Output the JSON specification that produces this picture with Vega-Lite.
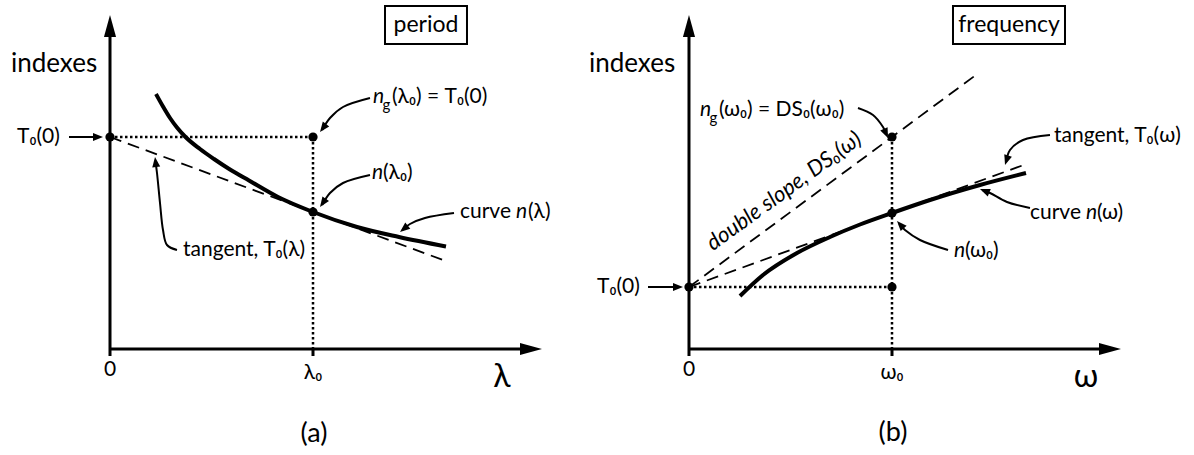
{
  "$schema": "https://vega.github.io/schema/vega-lite/v6.json",
  "padding": 0,
  "spacing": 0,
  "background": "white",
  "config": {
    "view": {"stroke": null},
    "text": {"font": "Lato, 'Noto Sans', sans-serif", "color": "black"},
    "line": {"color": "black"},
    "point": {"color": "black"}
  },
  "datasets": {
    "a_lines": [
      {"kind": "axis", "id": "yaxis", "i": 0, "x": 0, "y": -0.07},
      {"kind": "axis", "id": "yaxis", "i": 1, "x": 0, "y": 3.2},
      {"kind": "axis", "id": "xaxis", "i": 0, "x": 0, "y": 0},
      {"kind": "axis", "id": "xaxis", "i": 1, "x": 2.06, "y": 0},
      {"kind": "axis", "id": "tick", "i": 0, "x": 1, "y": 0},
      {"kind": "axis", "id": "tick", "i": 1, "x": 1, "y": -0.07},
      {"kind": "curve", "id": "n", "i": 0, "x": 0.2266, "y": 2.55},
      {"kind": "curve", "id": "n", "i": 1, "x": 0.2611, "y": 2.425},
      {"kind": "curve", "id": "n", "i": 2, "x": 0.2956, "y": 2.31},
      {"kind": "curve", "id": "n", "i": 3, "x": 0.33, "y": 2.215},
      {"kind": "curve", "id": "n", "i": 4, "x": 0.3695, "y": 2.125},
      {"kind": "curve", "id": "n", "i": 5, "x": 0.4433, "y": 2.0},
      {"kind": "curve", "id": "n", "i": 6, "x": 0.5123, "y": 1.9},
      {"kind": "curve", "id": "n", "i": 7, "x": 0.5911, "y": 1.795},
      {"kind": "curve", "id": "n", "i": 8, "x": 0.6847, "y": 1.685},
      {"kind": "curve", "id": "n", "i": 9, "x": 0.8276, "y": 1.52},
      {"kind": "curve", "id": "n", "i": 10, "x": 1.0, "y": 1.37},
      {"kind": "curve", "id": "n", "i": 11, "x": 1.2167, "y": 1.22},
      {"kind": "curve", "id": "n", "i": 12, "x": 1.4236, "y": 1.12},
      {"kind": "curve", "id": "n", "i": 13, "x": 1.6552, "y": 1.025},
      {"kind": "dash", "id": "tangent", "i": 0, "x": 0, "y": 2.12},
      {"kind": "dash", "id": "tangent", "i": 1, "x": 1.6552, "y": 0.879},
      {"kind": "dot", "id": "h", "i": 0, "x": 0, "y": 2.12},
      {"kind": "dot", "id": "h", "i": 1, "x": 1, "y": 2.12},
      {"kind": "dot", "id": "v", "i": 0, "x": 1, "y": 2.12},
      {"kind": "dot", "id": "v", "i": 1, "x": 1, "y": 0},
      {"kind": "arrow", "id": "t0", "i": 0, "x": -0.202, "y": 2.12},
      {"kind": "arrow", "id": "t0", "i": 1, "x": -0.06, "y": 2.12},
      {"kind": "arrow", "id": "ng", "i": 0, "x": 1.2808, "y": 2.51},
      {"kind": "arrow", "id": "ng", "i": 1, "x": 1.1478, "y": 2.42},
      {"kind": "arrow", "id": "ng", "i": 2, "x": 1.0837, "y": 2.31},
      {"kind": "arrow", "id": "ng", "i": 3, "x": 1.045, "y": 2.19},
      {"kind": "arrow", "id": "n0", "i": 0, "x": 1.2808, "y": 1.74},
      {"kind": "arrow", "id": "n0", "i": 1, "x": 1.1478, "y": 1.66},
      {"kind": "arrow", "id": "n0", "i": 2, "x": 1.0837, "y": 1.56},
      {"kind": "arrow", "id": "n0", "i": 3, "x": 1.045, "y": 1.44},
      {"kind": "arrow", "id": "cv", "i": 0, "x": 1.6946, "y": 1.36},
      {"kind": "arrow", "id": "cv", "i": 1, "x": 1.5517, "y": 1.31},
      {"kind": "arrow", "id": "cv", "i": 2, "x": 1.4778, "y": 1.25},
      {"kind": "arrow", "id": "cv", "i": 3, "x": 1.44, "y": 1.19},
      {"kind": "arrow", "id": "tg", "i": 0, "x": 0.33, "y": 0.99},
      {"kind": "arrow", "id": "tg", "i": 1, "x": 0.2808, "y": 1.04},
      {"kind": "arrow", "id": "tg", "i": 2, "x": 0.2611, "y": 1.19},
      {"kind": "arrow", "id": "tg", "i": 3, "x": 0.2463, "y": 1.46},
      {"kind": "arrow", "id": "tg", "i": 4, "x": 0.2315, "y": 1.76},
      {"kind": "arrow", "id": "tg", "i": 5, "x": 0.2237, "y": 1.88}
    ],
    "a_dots": [
      {"x": 0, "y": 2.12},
      {"x": 1, "y": 2.12},
      {"x": 1, "y": 1.37}
    ],
    "a_heads": [
      {"kind": "axis", "x": 0, "y": 3.34, "angle": -90},
      {"kind": "axis", "x": 2.128, "y": 0, "angle": 0},
      {"kind": "note", "x": -0.0345, "y": 2.12, "angle": 0},
      {"kind": "note", "x": 1.0345, "y": 2.17, "angle": 127},
      {"kind": "note", "x": 1.0345, "y": 1.42, "angle": 125},
      {"kind": "note", "x": 1.4286, "y": 1.17, "angle": 141},
      {"kind": "note", "x": 0.2217, "y": 1.92, "angle": -97}
    ],
    "a_box": [
      {"x": 1.3547, "x2": 1.7586, "y": 3.05, "y2": 3.43}
    ],
    "a_text": [
      {"role": "heading", "t": "indexes", "x": -0.4877, "y": 2.85},
      {"role": "box", "t": "period", "x": 1.5567, "y": 3.24},
      {"role": "tick", "t": "0", "x": 0, "y": -0.21},
      {"role": "tick", "t": "λ₀", "x": 1, "y": -0.24},
      {"role": "var", "t": "λ", "x": 1.931, "y": -0.28},
      {"role": "panel", "t": "(a)", "x": 1.005, "y": -0.85},
      {"role": "note", "t": "T₀(0)", "x": -0.4581, "y": 2.12},
      {"role": "sym", "t": "n", "x": 1.2956, "y": 2.52},
      {"role": "sub", "t": "g", "x": 1.3424, "y": 2.44},
      {"role": "note", "t": "(λ₀) = T₀(0)", "x": 1.3892, "y": 2.52},
      {"role": "sym", "t": "n", "x": 1.2906, "y": 1.76},
      {"role": "note", "t": "(λ₀)", "x": 1.3448, "y": 1.76},
      {"role": "note", "t": "curve", "x": 1.7241, "y": 1.37},
      {"role": "sym", "t": "n", "x": 2.0, "y": 1.37},
      {"role": "note", "t": "(λ)", "x": 2.0591, "y": 1.37},
      {"role": "note", "t": "tangent, T₀(λ)", "x": 0.3596, "y": 0.99}
    ],
    "b_lines": [
      {"kind": "axis", "id": "yaxis", "i": 0, "x": 0, "y": -0.07},
      {"kind": "axis", "id": "yaxis", "i": 1, "x": 0, "y": 3.2},
      {"kind": "axis", "id": "xaxis", "i": 0, "x": 0, "y": 0},
      {"kind": "axis", "id": "xaxis", "i": 1, "x": 2.06, "y": 0},
      {"kind": "axis", "id": "tick", "i": 0, "x": 1, "y": 0},
      {"kind": "axis", "id": "tick", "i": 1, "x": 1, "y": -0.07},
      {"kind": "curve", "id": "n", "i": 0, "x": 0.2512, "y": 0.53},
      {"kind": "curve", "id": "n", "i": 1, "x": 0.3645, "y": 0.74},
      {"kind": "curve", "id": "n", "i": 2, "x": 0.532, "y": 0.96},
      {"kind": "curve", "id": "n", "i": 3, "x": 0.6946, "y": 1.12},
      {"kind": "curve", "id": "n", "i": 4, "x": 0.8424, "y": 1.245},
      {"kind": "curve", "id": "n", "i": 5, "x": 1.0, "y": 1.36},
      {"kind": "curve", "id": "n", "i": 6, "x": 1.1872, "y": 1.49},
      {"kind": "curve", "id": "n", "i": 7, "x": 1.4335, "y": 1.64},
      {"kind": "curve", "id": "n", "i": 8, "x": 1.6601, "y": 1.76},
      {"kind": "dash", "id": "tangent", "i": 0, "x": 0, "y": 0.62},
      {"kind": "dash", "id": "tangent", "i": 1, "x": 1.6601, "y": 1.8485},
      {"kind": "dash", "id": "double", "i": 0, "x": 0, "y": 0.62},
      {"kind": "dash", "id": "double", "i": 1, "x": 1.4187, "y": 2.748},
      {"kind": "dot", "id": "h", "i": 0, "x": 0, "y": 0.62},
      {"kind": "dot", "id": "h", "i": 1, "x": 1, "y": 0.62},
      {"kind": "dot", "id": "v", "i": 0, "x": 1, "y": 2.12},
      {"kind": "dot", "id": "v", "i": 1, "x": 1, "y": 0},
      {"kind": "arrow", "id": "t0", "i": 0, "x": -0.202, "y": 0.62},
      {"kind": "arrow", "id": "t0", "i": 1, "x": -0.06, "y": 0.62},
      {"kind": "arrow", "id": "ng", "i": 0, "x": 0.8325, "y": 2.41},
      {"kind": "arrow", "id": "ng", "i": 1, "x": 0.9064, "y": 2.34},
      {"kind": "arrow", "id": "ng", "i": 2, "x": 0.9557, "y": 2.22},
      {"kind": "arrow", "id": "ng", "i": 3, "x": 0.975, "y": 2.14},
      {"kind": "arrow", "id": "tg", "i": 0, "x": 1.7783, "y": 2.14},
      {"kind": "arrow", "id": "tg", "i": 1, "x": 1.6453, "y": 2.09},
      {"kind": "arrow", "id": "tg", "i": 2, "x": 1.5813, "y": 1.99},
      {"kind": "arrow", "id": "tg", "i": 3, "x": 1.562, "y": 1.87},
      {"kind": "arrow", "id": "cv", "i": 0, "x": 1.6798, "y": 1.41},
      {"kind": "arrow", "id": "cv", "i": 1, "x": 1.5665, "y": 1.47},
      {"kind": "arrow", "id": "cv", "i": 2, "x": 1.4828, "y": 1.56},
      {"kind": "arrow", "id": "cv", "i": 3, "x": 1.445, "y": 1.59},
      {"kind": "arrow", "id": "n0", "i": 0, "x": 1.2759, "y": 0.99},
      {"kind": "arrow", "id": "n0", "i": 1, "x": 1.1379, "y": 1.09},
      {"kind": "arrow", "id": "n0", "i": 2, "x": 1.064, "y": 1.19},
      {"kind": "arrow", "id": "n0", "i": 3, "x": 1.035, "y": 1.25}
    ],
    "b_dots": [
      {"x": 0, "y": 0.62},
      {"x": 1, "y": 2.12},
      {"x": 1, "y": 1.36},
      {"x": 1, "y": 0.62}
    ],
    "b_heads": [
      {"kind": "axis", "x": 0, "y": 3.34, "angle": -90},
      {"kind": "axis", "x": 2.128, "y": 0, "angle": 0},
      {"kind": "note", "x": -0.0296, "y": 0.62, "angle": 0},
      {"kind": "note", "x": 0.9803, "y": 2.11, "angle": 66},
      {"kind": "note", "x": 1.5567, "y": 1.84, "angle": 108},
      {"kind": "note", "x": 1.4335, "y": 1.6, "angle": -158},
      {"kind": "note", "x": 1.0246, "y": 1.28, "angle": -132}
    ],
    "b_box": [
      {"x": 1.3005, "x2": 1.8522, "y": 3.05, "y2": 3.43}
    ],
    "b_text": [
      {"role": "heading", "t": "indexes", "x": -0.4926, "y": 2.85},
      {"role": "box", "t": "frequency", "x": 1.5764, "y": 3.24},
      {"role": "tick", "t": "0", "x": 0, "y": -0.21},
      {"role": "tick", "t": "ω₀", "x": 1, "y": -0.24},
      {"role": "var", "t": "ω", "x": 1.9557, "y": -0.28},
      {"role": "panel", "t": "(b)", "x": 1.0049, "y": -0.84},
      {"role": "note", "t": "T₀(0)", "x": -0.4532, "y": 0.62},
      {"role": "sym", "t": "n", "x": 0.0542, "y": 2.39},
      {"role": "sub", "t": "g", "x": 0.101, "y": 2.31},
      {"role": "note", "t": "(ω₀) = DS₀(ω₀)", "x": 0.1478, "y": 2.39},
      {"role": "slant", "t": "double slope, DS₀(ω)", "x": 0.468, "y": 1.58},
      {"role": "note", "t": "tangent, T₀(ω)", "x": 1.798, "y": 2.13},
      {"role": "note", "t": "curve", "x": 1.6798, "y": 1.36},
      {"role": "sym", "t": "n", "x": 1.9557, "y": 1.36},
      {"role": "note", "t": "(ω)", "x": 2.0099, "y": 1.36},
      {"role": "sym", "t": "n", "x": 1.3054, "y": 0.98},
      {"role": "note", "t": "(ω₀)", "x": 1.3596, "y": 0.98}
    ]
  },
  "hconcat": [
    {
      "width": 580,
      "height": 455,
      "encoding": {
        "x": {"field": "x", "type": "quantitative", "axis": null, "scale": {"domain": [-0.5419, 2.3153], "nice": false, "zero": false}},
        "y": {"field": "y", "type": "quantitative", "axis": null, "scale": {"domain": [-1.06, 3.49], "nice": false, "zero": false}}
      },
      "layer": [
        {"data": {"name": "a_lines"}, "transform": [{"filter": "datum.kind == 'dot'"}],
         "mark": {"type": "line", "strokeWidth": 2.5, "strokeDash": [2.5, 2.5]},
         "encoding": {"detail": {"field": "id"}, "order": {"field": "i"}}},
        {"data": {"name": "a_lines"}, "transform": [{"filter": "datum.kind == 'dash'"}],
         "mark": {"type": "line", "strokeWidth": 1.8, "strokeDash": [12, 7]},
         "encoding": {"detail": {"field": "id"}, "order": {"field": "i"}}},
        {"data": {"name": "a_lines"}, "transform": [{"filter": "datum.kind == 'curve'"}],
         "mark": {"type": "line", "strokeWidth": 4, "interpolate": "monotone"},
         "encoding": {"detail": {"field": "id"}, "order": {"field": "i"}}},
        {"data": {"name": "a_lines"}, "transform": [{"filter": "datum.kind == 'axis'"}],
         "mark": {"type": "line", "strokeWidth": 3},
         "encoding": {"detail": {"field": "id"}, "order": {"field": "i"}}},
        {"data": {"name": "a_lines"}, "transform": [{"filter": "datum.kind == 'arrow'"}],
         "mark": {"type": "line", "strokeWidth": 2, "interpolate": "catmull-rom"},
         "encoding": {"detail": {"field": "id"}, "order": {"field": "i"}}},
        {"data": {"name": "a_box"},
         "mark": {"type": "rect", "fill": "white", "stroke": "black", "strokeWidth": 2},
         "encoding": {"x2": {"field": "x2"}, "y2": {"field": "y2"}}},
        {"data": {"name": "a_dots"},
         "mark": {"type": "point", "shape": "circle", "filled": true, "size": 85, "opacity": 1, "color": "black"}},
        {"data": {"name": "a_heads"}, "transform": [{"filter": "datum.kind == 'axis'"}],
         "mark": {"type": "point", "shape": "M0,0L-2,-0.55L-2,0.55Z", "filled": true, "size": 484, "opacity": 1, "color": "black"},
         "encoding": {"angle": {"field": "angle", "type": "quantitative", "scale": null}}},
        {"data": {"name": "a_heads"}, "transform": [{"filter": "datum.kind == 'note'"}],
         "mark": {"type": "point", "shape": "M0,0L-2,-0.8L-2,0.8Z", "filled": true, "size": 100, "opacity": 1, "color": "black"},
         "encoding": {"angle": {"field": "angle", "type": "quantitative", "scale": null}}},
        {"data": {"name": "a_text"}, "transform": [{"filter": "datum.role == 'heading'"}],
         "mark": {"type": "text", "fontSize": 26, "align": "left", "baseline": "middle"},
         "encoding": {"text": {"field": "t"}}},
        {"data": {"name": "a_text"}, "transform": [{"filter": "datum.role == 'box'"}],
         "mark": {"type": "text", "fontSize": 23, "align": "center", "baseline": "middle"},
         "encoding": {"text": {"field": "t"}}},
        {"data": {"name": "a_text"}, "transform": [{"filter": "datum.role == 'tick'"}],
         "mark": {"type": "text", "fontSize": 21, "align": "center", "baseline": "middle"},
         "encoding": {"text": {"field": "t"}}},
        {"data": {"name": "a_text"}, "transform": [{"filter": "datum.role == 'var'"}],
         "mark": {"type": "text", "fontSize": 32, "align": "center", "baseline": "middle"},
         "encoding": {"text": {"field": "t"}}},
        {"data": {"name": "a_text"}, "transform": [{"filter": "datum.role == 'panel'"}],
         "mark": {"type": "text", "fontSize": 27, "align": "center", "baseline": "middle"},
         "encoding": {"text": {"field": "t"}}},
        {"data": {"name": "a_text"}, "transform": [{"filter": "datum.role == 'note'"}],
         "mark": {"type": "text", "fontSize": 21, "align": "left", "baseline": "middle"},
         "encoding": {"text": {"field": "t"}}},
        {"data": {"name": "a_text"}, "transform": [{"filter": "datum.role == 'sym'"}],
         "mark": {"type": "text", "fontSize": 21, "fontStyle": "italic", "align": "left", "baseline": "middle"},
         "encoding": {"text": {"field": "t"}}},
        {"data": {"name": "a_text"}, "transform": [{"filter": "datum.role == 'sub'"}],
         "mark": {"type": "text", "fontSize": 15, "align": "left", "baseline": "middle"},
         "encoding": {"text": {"field": "t"}}}
      ]
    },
    {
      "width": 614,
      "height": 455,
      "encoding": {
        "x": {"field": "x", "type": "quantitative", "axis": null, "scale": {"domain": [-0.5369, 2.4877], "nice": false, "zero": false}},
        "y": {"field": "y", "type": "quantitative", "axis": null, "scale": {"domain": [-1.06, 3.49], "nice": false, "zero": false}}
      },
      "layer": [
        {"data": {"name": "b_lines"}, "transform": [{"filter": "datum.kind == 'dot'"}],
         "mark": {"type": "line", "strokeWidth": 2.5, "strokeDash": [2.5, 2.5]},
         "encoding": {"detail": {"field": "id"}, "order": {"field": "i"}}},
        {"data": {"name": "b_lines"}, "transform": [{"filter": "datum.kind == 'dash'"}],
         "mark": {"type": "line", "strokeWidth": 1.8, "strokeDash": [12, 7]},
         "encoding": {"detail": {"field": "id"}, "order": {"field": "i"}}},
        {"data": {"name": "b_lines"}, "transform": [{"filter": "datum.kind == 'curve'"}],
         "mark": {"type": "line", "strokeWidth": 4, "interpolate": "monotone"},
         "encoding": {"detail": {"field": "id"}, "order": {"field": "i"}}},
        {"data": {"name": "b_lines"}, "transform": [{"filter": "datum.kind == 'axis'"}],
         "mark": {"type": "line", "strokeWidth": 3},
         "encoding": {"detail": {"field": "id"}, "order": {"field": "i"}}},
        {"data": {"name": "b_lines"}, "transform": [{"filter": "datum.kind == 'arrow'"}],
         "mark": {"type": "line", "strokeWidth": 2, "interpolate": "catmull-rom"},
         "encoding": {"detail": {"field": "id"}, "order": {"field": "i"}}},
        {"data": {"name": "b_box"},
         "mark": {"type": "rect", "fill": "white", "stroke": "black", "strokeWidth": 2},
         "encoding": {"x2": {"field": "x2"}, "y2": {"field": "y2"}}},
        {"data": {"name": "b_dots"},
         "mark": {"type": "point", "shape": "circle", "filled": true, "size": 85, "opacity": 1, "color": "black"}},
        {"data": {"name": "b_heads"}, "transform": [{"filter": "datum.kind == 'axis'"}],
         "mark": {"type": "point", "shape": "M0,0L-2,-0.55L-2,0.55Z", "filled": true, "size": 484, "opacity": 1, "color": "black"},
         "encoding": {"angle": {"field": "angle", "type": "quantitative", "scale": null}}},
        {"data": {"name": "b_heads"}, "transform": [{"filter": "datum.kind == 'note'"}],
         "mark": {"type": "point", "shape": "M0,0L-2,-0.8L-2,0.8Z", "filled": true, "size": 100, "opacity": 1, "color": "black"},
         "encoding": {"angle": {"field": "angle", "type": "quantitative", "scale": null}}},
        {"data": {"name": "b_text"}, "transform": [{"filter": "datum.role == 'heading'"}],
         "mark": {"type": "text", "fontSize": 26, "align": "left", "baseline": "middle"},
         "encoding": {"text": {"field": "t"}}},
        {"data": {"name": "b_text"}, "transform": [{"filter": "datum.role == 'box'"}],
         "mark": {"type": "text", "fontSize": 23, "align": "center", "baseline": "middle"},
         "encoding": {"text": {"field": "t"}}},
        {"data": {"name": "b_text"}, "transform": [{"filter": "datum.role == 'tick'"}],
         "mark": {"type": "text", "fontSize": 21, "align": "center", "baseline": "middle"},
         "encoding": {"text": {"field": "t"}}},
        {"data": {"name": "b_text"}, "transform": [{"filter": "datum.role == 'var'"}],
         "mark": {"type": "text", "fontSize": 32, "align": "center", "baseline": "middle"},
         "encoding": {"text": {"field": "t"}}},
        {"data": {"name": "b_text"}, "transform": [{"filter": "datum.role == 'panel'"}],
         "mark": {"type": "text", "fontSize": 27, "align": "center", "baseline": "middle"},
         "encoding": {"text": {"field": "t"}}},
        {"data": {"name": "b_text"}, "transform": [{"filter": "datum.role == 'note'"}],
         "mark": {"type": "text", "fontSize": 21, "align": "left", "baseline": "middle"},
         "encoding": {"text": {"field": "t"}}},
        {"data": {"name": "b_text"}, "transform": [{"filter": "datum.role == 'sym'"}],
         "mark": {"type": "text", "fontSize": 21, "fontStyle": "italic", "align": "left", "baseline": "middle"},
         "encoding": {"text": {"field": "t"}}},
        {"data": {"name": "b_text"}, "transform": [{"filter": "datum.role == 'sub'"}],
         "mark": {"type": "text", "fontSize": 15, "align": "left", "baseline": "middle"},
         "encoding": {"text": {"field": "t"}}},
        {"data": {"name": "b_text"}, "transform": [{"filter": "datum.role == 'slant'"}],
         "mark": {"type": "text", "fontSize": 22, "fontStyle": "italic", "align": "center", "baseline": "middle", "angle": -36},
         "encoding": {"text": {"field": "t"}}}
      ]
    }
  ]
}
